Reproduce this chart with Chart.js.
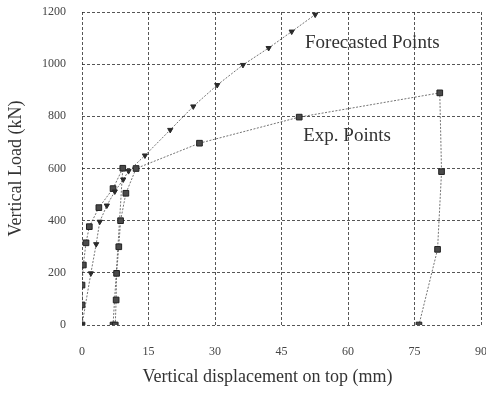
<!DOCTYPE html>
<html>
<head>
<meta charset="utf-8">
<script src="https://cdn.jsdelivr.net/npm/chart.js@4"></script>
<style>
  html, body { margin: 0; padding: 0; background: #fff; }
  #wrap { width: 486px; height: 394px; }
</style>
</head>
<body>
<div id="wrap"><canvas id="loadChart" width="486" height="394"></canvas></div>
<script>
// Load-displacement data (mm, kN)
const forecastDisp = [0, 2.0, 3.2, 4.0, 5.6, 7.4, 9.3, 10.5, 14.2, 19.9, 25.1, 30.5, 36.3, 42.1, 47.3, 52.6];
const forecastLoad = [0, 198, 310, 396, 458, 512, 558, 590, 650, 748, 838, 920, 997, 1062, 1125, 1190];

const expDisp = [0, 0, 0, 0.3, 0.9, 1.65, 3.8, 7.0, 9.2, 7.0, 7.5, 7.7, 7.8, 8.3, 8.7, 9.9, 12.2, 26.5, 49, 80.7, 81.1, 80.2, 76];
const expLoad = [0, 77, 153, 230, 315, 377, 450, 523, 601, 0, 0, 96, 198, 300, 400, 505, 600, 697, 797, 890, 588, 290, 0];

const xTicks = [0, 15, 30, 45, 60, 75, 90];
const yTicks = [0, 200, 400, 600, 800, 1000, 1200];

const seriesLabels = [
    { text: 'Forecasted Points', x: 50.3, y: 1081 },
    { text: 'Exp. Points', x: 49.9, y: 725 }
];
const xTitle = 'Vertical displacement on top (mm)';

const toPoints = (xs, ys) => xs.map((x, i) => ({ x: x, y: ys[i] }));

const serif = "'Liberation Serif', 'DejaVu Serif', serif";
const gridColor = 'rgba(30,30,30,0.75)';

// series names inside the plot + the x axis caption (sits a bit left of centre)
const chartText = {
    id: 'chartText',
    afterDatasetsDraw(chart) {
        const { ctx, scales, chartArea } = chart;
        ctx.save();
        ctx.font = '19px ' + serif;
        ctx.fillStyle = '#333';
        ctx.textBaseline = 'middle';
        ctx.textAlign = 'left';
        seriesLabels.forEach(l => {
            ctx.fillText(l.text, scales.x.getPixelForValue(l.x), scales.y.getPixelForValue(l.y));
        });
        ctx.font = '18px ' + serif;
        ctx.textAlign = 'center';
        ctx.fillText(xTitle, (chartArea.left + chartArea.right) / 2 - 14, chartArea.bottom + 52);
        ctx.restore();
    }
};

new Chart(document.getElementById('loadChart'), {
    type: 'scatter',
    data: {
        datasets: [{
            label: 'Forecasted Points',
            data: toPoints(forecastDisp, forecastLoad),
            showLine: true,
            borderColor: 'rgba(70,70,70,0.75)',
            borderWidth: 1,
            borderDash: [2, 1.5],
            pointStyle: 'triangle',
            rotation: 180,
            pointRadius: 3,
            pointBackgroundColor: '#2a2a2a',
            pointBorderColor: '#2a2a2a',
            pointBorderWidth: 1
        }, {
            label: 'Exp. Points',
            data: toPoints(expDisp, expLoad),
            showLine: true,
            borderColor: 'rgba(70,70,70,0.75)',
            borderWidth: 1,
            borderDash: [2, 1.5],
            pointStyle: 'rect',
            pointRadius: 4,
            pointBackgroundColor: '#4a4a4a',
            pointBorderColor: '#222',
            pointBorderWidth: 1
        }]
    },
    options: {
        responsive: false,
        animation: false,
        layout: { padding: { top: 12, right: 5, left: 5, bottom: 0 } },
        plugins: {
            legend: { display: false },
            tooltip: { enabled: false }
        },
        scales: {
            x: {
                type: 'linear',
                min: 0,
                max: 90,
                afterFit: s => {
                    s.height = 69;
                    s.paddingLeft = 0;
                    s.paddingRight = 0;
                },
                afterBuildTicks: s => { s.ticks = xTicks.map(v => ({ value: v })); },
                grid: { color: gridColor, drawTicks: false, lineWidth: 1 },
                border: { display: false, dash: [3, 2] },
                ticks: { padding: 20, color: '#444', font: { family: serif, size: 12 } }
            },
            y: {
                type: 'linear',
                min: 0,
                max: 1200,
                afterFit: s => {
                    s.width = 77;
                    s.paddingTop = 0;
                    s.paddingBottom = 0;
                },
                afterBuildTicks: s => { s.ticks = yTicks.map(v => ({ value: v })); },
                grid: { color: gridColor, drawTicks: false, lineWidth: 1 },
                border: { display: false, dash: [3, 2] },
                ticks: {
                    padding: 16,
                    color: '#444',
                    font: { family: serif, size: 12 },
                    callback: v => String(v)
                },
                title: {
                    display: true,
                    text: 'Vertical Load (kN)',
                    color: '#333',
                    font: { family: serif, size: 18 },
                    padding: 0
                }
            }
        }
    },
    plugins: [chartText]
});
</script>
</body>
</html>
